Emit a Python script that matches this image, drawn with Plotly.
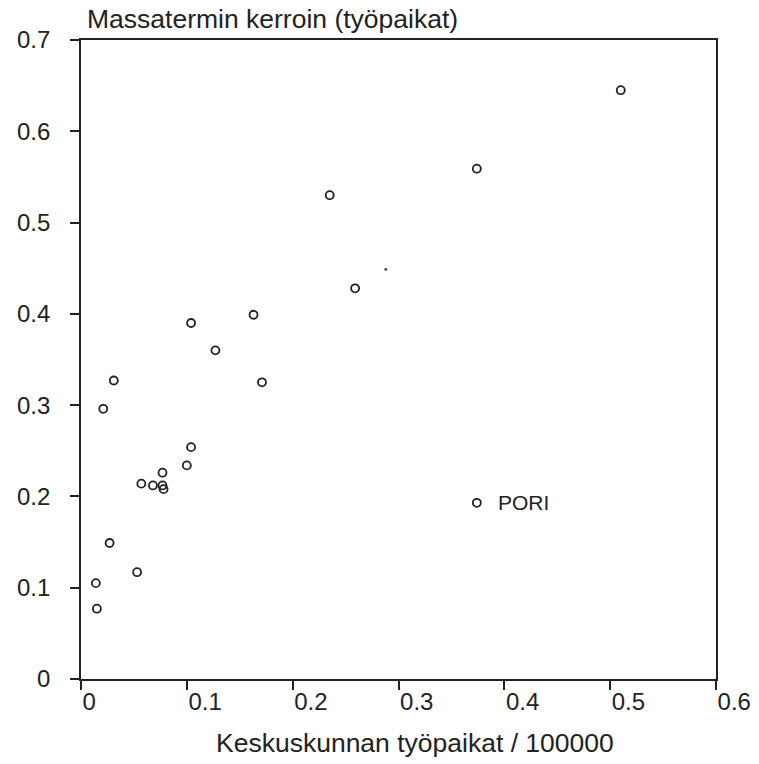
import plotly.graph_objects as go

# Data
x_vals = [0.510, 0.374, 0.235, 0.259, 0.163, 0.104, 0.127, 0.171, 0.031, 0.021,
          0.104, 0.100, 0.077, 0.057, 0.068, 0.077, 0.078, 0.027, 0.053, 0.014, 0.015]
y_vals = [0.645, 0.559, 0.530, 0.428, 0.399, 0.390, 0.360, 0.325, 0.327, 0.296,
          0.254, 0.234, 0.226, 0.214, 0.212, 0.212, 0.208, 0.149, 0.117, 0.105, 0.077]
pori_x = [0.374]
pori_y = [0.193]
pori_label = "PORI"
dot_x = [0.288]
dot_y = [0.449]

x_ticks = [0, 0.1, 0.2, 0.3, 0.4, 0.5, 0.6]
x_ticktext = ["0", "0.1", "0.2", "0.3", "0.4", "0.5", "0.6"]
y_ticks = [0, 0.1, 0.2, 0.3, 0.4, 0.5, 0.6, 0.7]
y_ticktext = ["0", "0.1", "0.2", "0.3", "0.4", "0.5", "0.6", "0.7"]

x_title = "Keskuskunnan työpaikat / 100000"
y_title = "Massatermin kerroin (työpaikat)"

FONT = "Liberation Sans, Arial, sans-serif"
INK = "#222222"

fig = go.Figure()
fig.add_trace(go.Scatter(
    x=x_vals + pori_x, y=y_vals + pori_y, mode="markers",
    marker=dict(symbol="circle-open", size=8, color=INK, line=dict(width=1.8, color=INK)),
    showlegend=False, hoverinfo="skip"))
fig.add_trace(go.Scatter(
    x=dot_x, y=dot_y, mode="markers",
    marker=dict(symbol="circle", size=3, color="#555"),
    showlegend=False, hoverinfo="skip"))

fig.add_annotation(x=pori_x[0], y=pori_y[0], text=pori_label, showarrow=False,
                   xanchor="left", yanchor="middle", xshift=19,
                   font=dict(family=FONT, size=21, color=INK))

fig.add_annotation(xref="paper", yref="paper", x=(85 - 81) / 635, y=1 + (40 - 19) / 639,
                   text=y_title, showarrow=False, xanchor="left", yanchor="middle",
                   font=dict(family=FONT, size=26.5, color=INK))
fig.add_annotation(xref="paper", yref="paper", x=(415 - 81) / 635, y=-(743 - 679) / 639,
                   text=x_title, showarrow=False, xanchor="center", yanchor="middle",
                   font=dict(family=FONT, size=26.5, color=INK))

axis_common = dict(showline=True, linecolor=INK, linewidth=1.6, mirror=True,
                   ticks="outside", ticklen=9, tickwidth=1.6, tickcolor=INK,
                   showgrid=False, zeroline=False, automargin=False,
                   tickfont=dict(family=FONT, size=24, color=INK))

fig.update_xaxes(range=[0, 0.6], tickvals=x_ticks, ticktext=x_ticktext,
                 ticklabelposition="outside right", **axis_common)
fig.update_yaxes(range=[0, 0.7], tickvals=y_ticks, ticktext=y_ticktext,
                 ticklabelstandoff=15, **axis_common)

fig.update_layout(width=759, height=764, margin=dict(l=81, r=43, t=40, b=85),
                  plot_bgcolor="white", paper_bgcolor="white")

fig.write_html("out.html")
